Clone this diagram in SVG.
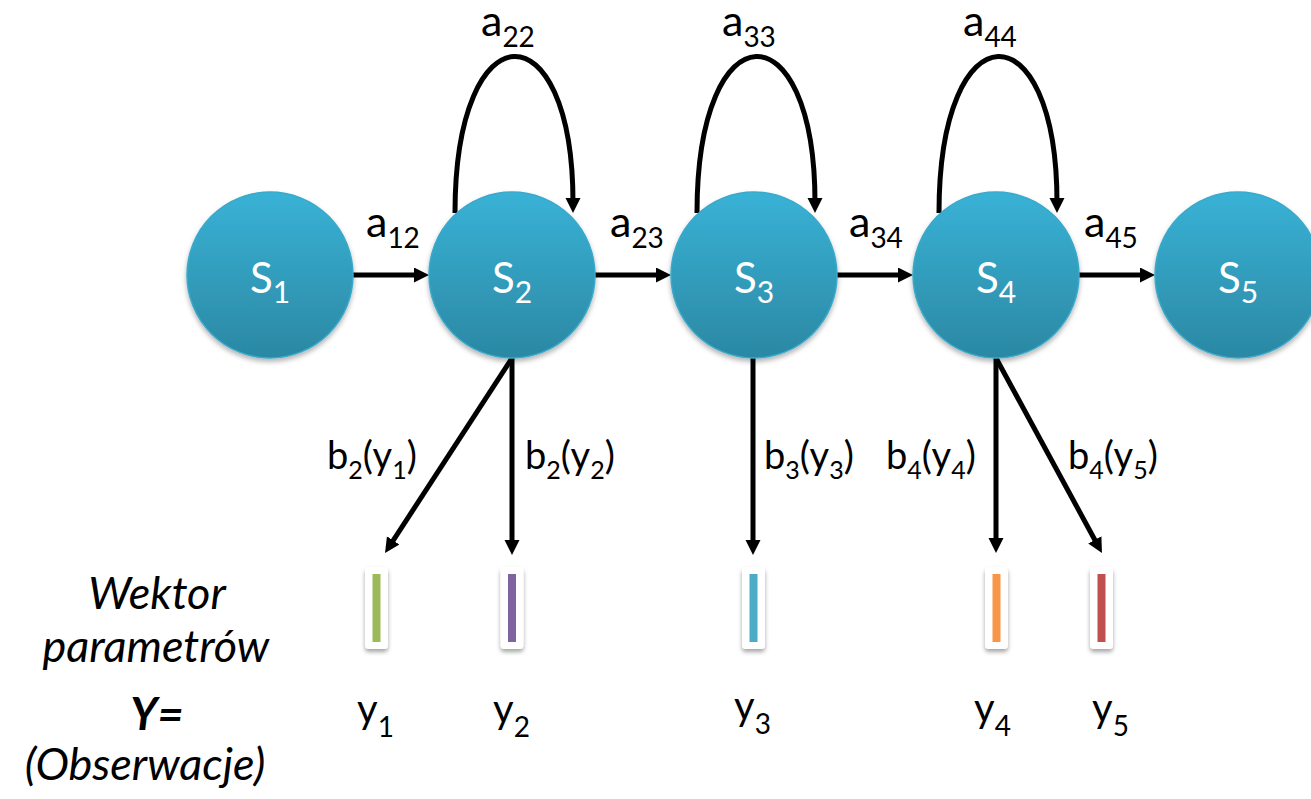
<svg xmlns="http://www.w3.org/2000/svg" width="1311" height="799" viewBox="0 0 1311 799">
<defs>
<linearGradient id="nodeGrad" x1="0" y1="0" x2="0" y2="1">
<stop offset="0" stop-color="#39B2D6"/>
<stop offset="1" stop-color="#2B88A3"/>
</linearGradient>
<filter id="shadow" x="-20%" y="-20%" width="140%" height="150%">
<feDropShadow dx="0" dy="3" stdDeviation="2.5" flood-color="#000" flood-opacity="0.3"/>
</filter>
<filter id="barShadow" x="-50%" y="-20%" width="200%" height="150%">
<feDropShadow dx="0" dy="3" stdDeviation="2" flood-color="#000" flood-opacity="0.35"/>
</filter>
<marker id="arrow" markerUnits="userSpaceOnUse" markerWidth="16" markerHeight="16" refX="5" refY="7.5" orient="auto">
<path d="M0,0 L15,7.5 L0,15 z" fill="#000"/>
</marker>
<style>
.node circle{fill:url(#nodeGrad);stroke:#3AA9CB;stroke-width:1.5;filter:url(#shadow)}
.nlabel{font-family:Lato,"Liberation Sans",sans-serif;font-size:42px;fill:#fff}
.nsub{font-size:30px}
.lbl{font-family:Lato,"Liberation Sans",sans-serif;fill:#000}
.alab{font-size:43px}
.asub{font-size:28px}
.blab{font-size:38px}
.bsub{font-size:25px}
.ylab{font-size:40px}
.ysub{font-size:28px}
.side{font-family:Lato,"Liberation Sans",sans-serif;font-size:45px;font-style:italic;fill:#000}
.conn{fill:none;stroke:#000;stroke-width:5;marker-end:url(#arrow)}
.bar{fill:#fff;filter:url(#barShadow)}
</style>
</defs>
<rect width="1311" height="799" fill="#fff"/>

<g id="connectors">
<line class="conn" x1="353" y1="275" x2="419" y2="275"/>
<line class="conn" x1="595" y1="275" x2="661" y2="275"/>
<line class="conn" x1="837" y1="275" x2="903" y2="275"/>
<line class="conn" x1="1079" y1="275" x2="1145" y2="275"/>
<path class="conn" d="M455,213 C455,6 573,6 573,203"/>
<path class="conn" d="M697,213 C697,6 815,6 815,203"/>
<path class="conn" d="M939,213 C939,6 1057,6 1057,203"/>
<line class="conn" x1="512" y1="358" x2="390.5" y2="544.6"/>
<line class="conn" x1="512" y1="358" x2="512" y2="545"/>
<line class="conn" x1="753" y1="358" x2="753" y2="545"/>
<line class="conn" x1="996" y1="358" x2="996" y2="543"/>
<line class="conn" x1="996" y1="358" x2="1097.2" y2="544.2"/>
</g>

<g id="S1" class="node"><circle cx="270" cy="275" r="83"/><text class="nlabel" x="270" y="293" text-anchor="middle">S<tspan class="nsub" dy="10">1</tspan></text></g>
<g id="S2" class="node"><circle cx="512" cy="275" r="83"/><text class="nlabel" x="512" y="293" text-anchor="middle">S<tspan class="nsub" dy="10">2</tspan></text></g>
<g id="S3" class="node"><circle cx="754" cy="275" r="83"/><text class="nlabel" x="754" y="293" text-anchor="middle">S<tspan class="nsub" dy="10">3</tspan></text></g>
<g id="S4" class="node"><circle cx="996" cy="275" r="83"/><text class="nlabel" x="996" y="293" text-anchor="middle">S<tspan class="nsub" dy="10">4</tspan></text></g>
<g id="S5" class="node"><circle cx="1238" cy="275" r="83"/><text class="nlabel" x="1238" y="293" text-anchor="middle">S<tspan class="nsub" dy="10">5</tspan></text></g>

<g id="transition-labels" class="lbl">
<text class="alab" x="366" y="237">a<tspan class="asub" dy="11">12</tspan></text>
<text class="alab" x="610" y="237">a<tspan class="asub" dy="11">23</tspan></text>
<text class="alab" x="849" y="237">a<tspan class="asub" dy="11">34</tspan></text>
<text class="alab" x="1084" y="237">a<tspan class="asub" dy="11">45</tspan></text>
<text class="alab" x="481" y="36">a<tspan class="asub" dy="11">22</tspan></text>
<text class="alab" x="722" y="36">a<tspan class="asub" dy="11">33</tspan></text>
<text class="alab" x="963" y="36">a<tspan class="asub" dy="11">44</tspan></text>
</g>

<g id="emission-labels" class="lbl">
<text class="blab" x="327" y="469">b<tspan class="bsub" dy="10">2</tspan><tspan dy="-10">(y</tspan><tspan class="bsub" dy="10">1</tspan><tspan dy="-10">)</tspan></text>
<text class="blab" x="525" y="469">b<tspan class="bsub" dy="10">2</tspan><tspan dy="-10">(y</tspan><tspan class="bsub" dy="10">2</tspan><tspan dy="-10">)</tspan></text>
<text class="blab" x="764" y="469">b<tspan class="bsub" dy="10">3</tspan><tspan dy="-10">(y</tspan><tspan class="bsub" dy="10">3</tspan><tspan dy="-10">)</tspan></text>
<text class="blab" x="886" y="469">b<tspan class="bsub" dy="10">4</tspan><tspan dy="-10">(y</tspan><tspan class="bsub" dy="10">4</tspan><tspan dy="-10">)</tspan></text>
<text class="blab" x="1068" y="469">b<tspan class="bsub" dy="10">4</tspan><tspan dy="-10">(y</tspan><tspan class="bsub" dy="10">5</tspan><tspan dy="-10">)</tspan></text>
</g>

<g id="obs1"><rect class="bar" x="365" y="567" width="23" height="82" rx="4"/><rect x="372.5" y="574" width="8" height="68" fill="#9BBB59"/><text class="lbl ylab" x="357" y="723">y<tspan class="ysub" dy="14">1</tspan></text></g>
<g id="obs2"><rect class="bar" x="500.5" y="567" width="23" height="82" rx="4"/><rect x="508" y="574" width="8" height="68" fill="#8064A2"/><text class="lbl ylab" x="493" y="723">y<tspan class="ysub" dy="14">2</tspan></text></g>
<g id="obs3"><rect class="bar" x="742" y="567" width="23" height="82" rx="4"/><rect x="749.5" y="574" width="8" height="68" fill="#4BACC6"/><text class="lbl ylab" x="734" y="720">y<tspan class="ysub" dy="14">3</tspan></text></g>
<g id="obs4"><rect class="bar" x="985" y="567" width="23" height="82" rx="4"/><rect x="992.5" y="574" width="8" height="68" fill="#F79646"/><text class="lbl ylab" x="974" y="722">y<tspan class="ysub" dy="14">4</tspan></text></g>
<g id="obs5"><rect class="bar" x="1090" y="567" width="23" height="82" rx="4"/><rect x="1097.5" y="574" width="8" height="68" fill="#C0504D"/><text class="lbl ylab" x="1092" y="722">y<tspan class="ysub" dy="14">5</tspan></text></g>

<g id="side-label">
<text class="side" x="157" y="609" text-anchor="middle">Wektor</text>
<text class="side" x="156" y="662" text-anchor="middle">parametrów</text>
<text class="side" x="157" y="730" text-anchor="middle" font-weight="bold">Y=</text>
<text class="side" x="145" y="780" text-anchor="middle">(Obserwacje)</text>
</g>
</svg>
